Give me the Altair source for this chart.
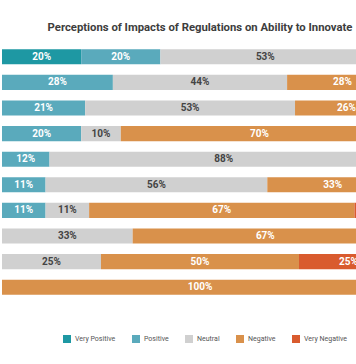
import altair as alt
import pandas as pd

rows = list(range(1, 11))
categories = ["Very Positive", "Positive", "Neutral", "Negative", "Very Negative"]
very_positive = [20, 0, 0, 0, 0, 0, 0, 0, 0, 0]
positive = [20, 28, 21, 20, 12, 11, 11, 0, 0, 0]
neutral = [53, 44, 53, 10, 88, 56, 11, 33, 25, 0]
negative = [7, 28, 26, 70, 0, 33, 67, 67, 50, 100]
very_negative = [0, 0, 0, 0, 0, 0, 11, 0, 25, 0]
colors = ["#1e98a3", "#5aaabc", "#d0d0d0", "#d9914b", "#d95b2e"]

series = [very_positive, positive, neutral, negative, very_negative]
records = []
for ci, (cat, vals) in enumerate(zip(categories, series)):
    for r, v in zip(rows, vals):
        if v > 0:
            records.append({"row": r, "cat": cat, "order": ci, "value": v})
df = pd.DataFrame(records)

FONT = "Roboto"
XMAX = 89.4

base = alt.Chart(df).transform_stack(
    stack="value", groupby=["row"], as_=["x0", "x1"], sort=[alt.SortField("order")]
).transform_calculate(
    mid="(datum.x0 + datum.x1) / 2", label="datum.value + '%'"
)

xscale = alt.Scale(domain=[0, XMAX], nice=False, zero=False)
yscale = alt.Scale(paddingInner=0.41, paddingOuter=0.205)

bars = base.mark_bar(clip=True).encode(
    x=alt.X("x0:Q", scale=xscale, axis=None),
    x2="x1:Q",
    y=alt.Y("row:O", scale=yscale, axis=None),
    color=alt.Color(
        "cat:N",
        scale=alt.Scale(domain=categories, range=colors),
        legend=alt.Legend(
            title=None, orient="none", direction="horizontal",
            legendX=61, legendY=291, symbolType="square", symbolSize=64,
            symbolStrokeWidth=0, labelFontSize=7, labelFont=FONT,
            labelColor="#555555", columnPadding=16, symbolOffset=0,
            labelOffset=4,
        ),
    ),
)

text = base.transform_filter(f"datum.mid < {XMAX}").mark_text(
    clip=True, font=FONT, fontWeight="bold", fontSize=10
).encode(
    x=alt.X("mid:Q", scale=xscale),
    y=alt.Y("row:O", scale=yscale),
    text="label:N",
    color=alt.condition("datum.cat == 'Neutral'", alt.value("#444444"), alt.value("white")),
)

chart = alt.layer(bars, text).properties(
    width=354, height=256,
    autosize=alt.AutoSizeParams(type="none"),
    padding={"left": 2, "top": 44, "right": 0, "bottom": 64},
    title=alt.TitleParams(
        "Perceptions of Impacts of Regulations on Ability to Innovate",
        font=FONT, fontSize=11.3, fontWeight="bold", color="#3d3d3d",
        anchor="middle", dx=21, offset=11,
    ),
).configure_view(stroke=None)

chart.save("out.html", embed_options={"renderer": "svg", "actions": False})
